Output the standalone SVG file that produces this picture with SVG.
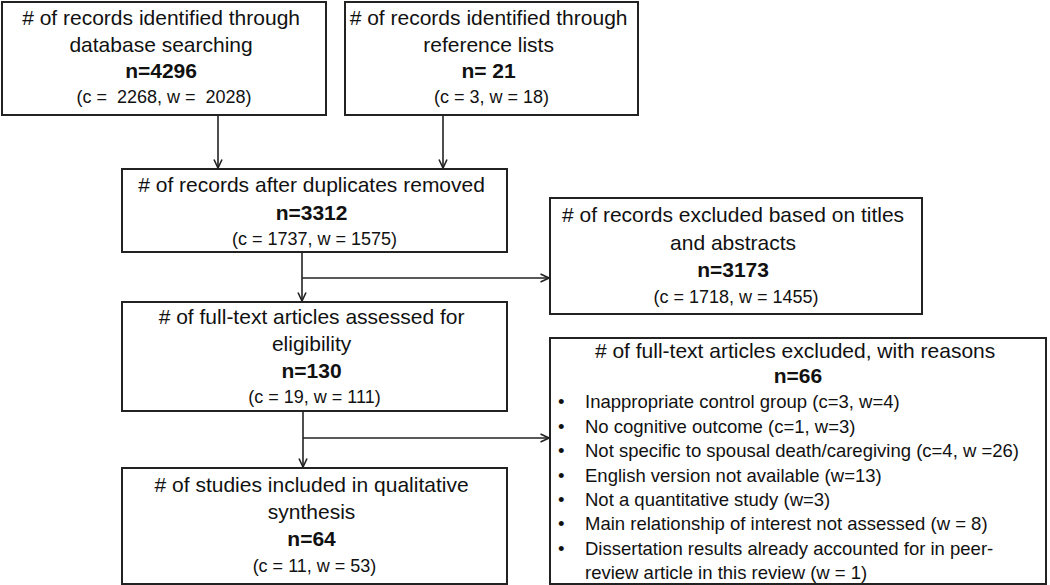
<svg xmlns="http://www.w3.org/2000/svg" width="1050" height="585" viewBox="0 0 1050 585">
<style>
.box{fill:#fff;stroke:#222;stroke-width:2}
.t{font-family:"Liberation Sans",Arial,sans-serif;font-size:21px;fill:#111;text-anchor:middle}
.b{font-weight:bold}
.p{font-size:18px}
.l{text-anchor:start;font-size:18.5px}
.c{fill:none;stroke:#222;stroke-width:1.6}
</style>
<defs>
<marker id="ah" viewBox="0 0 10 10" refX="9.5" refY="5" markerWidth="10" markerHeight="10" markerUnits="userSpaceOnUse" orient="auto">
<path d="M1,1 L9.5,5 L1,9" fill="none" stroke="#222" stroke-width="1.6"/>
</marker>
</defs>
<rect width="1050" height="585" fill="#fff"/>
<g id="connectors">
<path class="c" d="M218,115 V168" marker-end="url(#ah)"/>
<path class="c" d="M443,115 V168" marker-end="url(#ah)"/>
<path class="c" d="M302,252 V301" marker-end="url(#ah)"/>
<path class="c" d="M302,278 H549" marker-end="url(#ah)"/>
<path class="c" d="M303,411 V467" marker-end="url(#ah)"/>
<path class="c" d="M303,438 H549" marker-end="url(#ah)"/>
</g>
<g id="n1">
<rect class="box" x="2" y="2" width="324" height="113"/>
<text class="t">
<tspan x="164" y="25"># of records identified through</tspan>
<tspan x="164" y="52">database searching</tspan>
<tspan x="164" y="78" class="b">n=4296</tspan>
<tspan x="164" y="103" class="p" style="white-space:pre">(c =  2268, w =  2028)</tspan>
</text>
</g>
<g id="n2">
<rect class="box" x="345" y="2" width="293" height="113"/>
<text class="t">
<tspan x="491.5" y="25"># of records identified through</tspan>
<tspan x="491.5" y="52">reference lists</tspan>
<tspan x="491.5" y="78" class="b">n= 21</tspan>
<tspan x="491.5" y="103" class="p">(c = 3, w = 18)</tspan>
</text>
</g>
<g id="n3">
<rect class="box" x="122" y="169" width="385" height="83"/>
<text class="t">
<tspan x="314.5" y="192"># of records after duplicates removed</tspan>
<tspan x="314.5" y="220" class="b">n=3312</tspan>
<tspan x="314.5" y="245" class="p">(c = 1737, w = 1575)</tspan>
</text>
</g>
<g id="n4">
<rect class="box" x="550" y="198" width="372" height="116"/>
<text class="t">
<tspan x="736" y="222"># of records excluded based on titles</tspan>
<tspan x="736" y="250">and abstracts</tspan>
<tspan x="736" y="277" class="b">n=3173</tspan>
<tspan x="736" y="303" class="p">(c = 1718, w = 1455)</tspan>
</text>
</g>
<g id="n5">
<rect class="box" x="122" y="302" width="385" height="109"/>
<text class="t">
<tspan x="314.5" y="324"># of full-text articles assessed for</tspan>
<tspan x="314.5" y="351">eligibility</tspan>
<tspan x="314.5" y="378" class="b">n=130</tspan>
<tspan x="314.5" y="403" class="p">(c = 19, w = 111)</tspan>
</text>
</g>
<g id="n6">
<rect class="box" x="550" y="338" width="496" height="246"/>
<text class="t">
<tspan x="798" y="358"># of full-text articles excluded, with reasons</tspan>
<tspan x="798" y="383" class="b">n=66</tspan>
</text>
<text class="t l" x="558" y="408">•</text>
<text class="t l" x="558" y="433">•</text>
<text class="t l" x="558" y="457">•</text>
<text class="t l" x="558" y="482">•</text>
<text class="t l" x="558" y="506">•</text>
<text class="t l" x="558" y="530">•</text>
<text class="t l" x="558" y="555">•</text>
<text class="t l" x="585" y="408">Inappropriate control group (c=3, w=4)</text>
<text class="t l" x="585" y="433">No cognitive outcome (c=1, w=3)</text>
<text class="t l" x="585" y="457">Not specific to spousal death/caregiving (c=4, w =26)</text>
<text class="t l" x="585" y="482">English version not available (w=13)</text>
<text class="t l" x="585" y="506">Not a quantitative study (w=3)</text>
<text class="t l" x="585" y="530">Main relationship of interest not assessed (w = 8)</text>
<text class="t l" x="585" y="555">Dissertation results already accounted for in peer-</text>
<text class="t l" x="585" y="579">review article in this review (w = 1)</text>
</g>
<g id="n7">
<rect class="box" x="122" y="468" width="385" height="116"/>
<text class="t">
<tspan x="314.5" y="492"># of studies included in qualitative</tspan>
<tspan x="314.5" y="519">synthesis</tspan>
<tspan x="314.5" y="546" class="b">n=64</tspan>
<tspan x="314.5" y="572" class="p">(c = 11, w = 53)</tspan>
</text>
</g>
</svg>
